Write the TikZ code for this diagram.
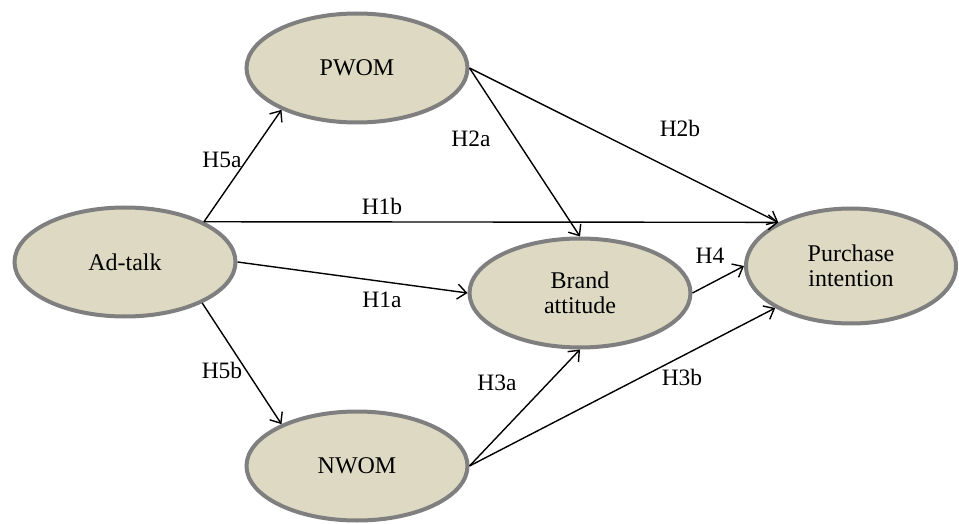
\documentclass[tikz,border=0pt]{standalone}
\usepackage{fontspec}
\setmainfont{Liberation Serif}
\usetikzlibrary{shapes.geometric,arrows.meta}
\definecolor{tanfill}{HTML}{DDD9C3}
\definecolor{rimgray}{HTML}{7F7F7F}
\begin{document}
\begin{tikzpicture}[x=1pt,y=-1pt,
  construct/.style={ellipse,draw=rimgray,line width=4pt,fill=tanfill,minimum width=221pt,minimum height=109pt,inner sep=0pt,align=center,font=\fontsize{24}{26}\selectfont},
  hyp/.style={font=\fontsize{23.5}{26}\selectfont,inner sep=0pt},
  link/.style={line width=1.4pt,-{Straight Barb[length=9pt,width=15pt,line width=1.4pt]}}]
\useasboundingbox (0,0) rectangle (959,524);
\node[construct] (ad) at (125,262) {Ad-talk};
\node[construct] (pwom) at (357,68) {PWOM};
\node[construct] (nwom) at (357,466) {NWOM};
\node[construct] (brand) at (580,293) {Brand\\[-1pt]attitude};
\node[construct,minimum width=210pt,minimum height=115pt] (pi) at (851,266) {Purchase\\[-1pt]intention};
\draw[link] (ad.27) -- (pwom.209);
\draw[link] (ad.-28) -- (nwom.151);
\draw[link] (ad.27) -- (pi.149);
\draw[link] (ad.east) -- (brand.west);
\draw[link] (pwom.east) -- (brand.north);
\draw[link] (pwom.east) -- (pi.149);
\draw[link] (brand.east) -- (pi.west);
\draw[link] (nwom.east) -- (brand.south);
\draw[link] (nwom.east) -- (pi.209);
\node[hyp] (h5a) at (222,160) {H5a};
\node[hyp] (h5b) at (222,370) {H5b};
\node[hyp] (h1b) at (382,206) {H1b};
\node[hyp] (h1a) at (382,300) {H1a};
\node[hyp] (h2a) at (471,139) {H2a};
\node[hyp] (h2b) at (680,128) {H2b};
\node[hyp] (h4) at (710,256) {H4};
\node[hyp] (h3a) at (497,383) {H3a};
\node[hyp] (h3b) at (682,377) {H3b};
\end{tikzpicture}
\end{document}
